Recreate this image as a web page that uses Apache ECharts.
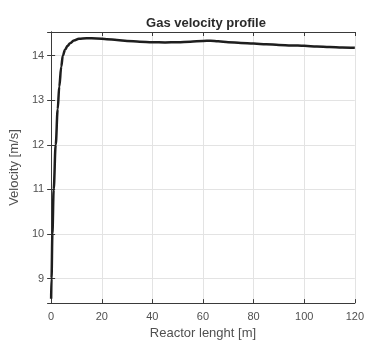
<!DOCTYPE html>
<html>
<head>
<meta charset="utf-8">
<script src="https://cdn.jsdelivr.net/npm/echarts@6/dist/echarts.min.js"></script>
<style>
  html, body { margin: 0; padding: 0; background: #fff; }
  #chart { width: 367px; height: 345px; }
</style>
</head>
<body>
<div id="chart"></div>
<script>
// Gas velocity along the reactor
const lengthM = [0, 0.15, 0.5, 1.0, 1.8, 2.6, 3.2, 4.0, 4.6, 5.5, 6.5, 7.5, 9, 11, 14, 18, 22, 26, 30, 35, 40, 45, 50, 55, 60, 63, 66, 70, 75, 80, 85, 90, 95, 100, 105, 110, 115, 120];
const velocity = [8.55, 9.0, 10.0, 11.0, 12.0, 12.8, 13.3, 13.75, 14.0, 14.13, 14.22, 14.28, 14.34, 14.38, 14.39, 14.385, 14.37, 14.35, 14.33, 14.31, 14.30, 14.295, 14.30, 14.31, 14.33, 14.335, 14.32, 14.30, 14.285, 14.27, 14.255, 14.24, 14.23, 14.22, 14.205, 14.195, 14.185, 14.175];

const xTicks = [0, 20, 40, 60, 80, 100, 120];
const yRange = [8.45, 14.53];

const points = lengthM.map((x, i) => [x, velocity[i]]);

const font = 'Liberation Sans, Arial, sans-serif';
const axisColor = '#3a3a3a';
const labelColor = '#505050';

const chart = echarts.init(document.getElementById('chart'), null, { renderer: 'canvas' });

const baseX = {
  type: 'value',
  min: xTicks[0],
  max: xTicks[xTicks.length - 1],
  interval: 20,
  axisLine: { show: true, lineStyle: { color: axisColor, width: 1 } },
  axisTick: { show: true, inside: true, length: 4, lineStyle: { color: axisColor } }
};
const baseY = {
  type: 'value',
  min: yRange[0],
  max: yRange[1],
  splitNumber: 6,
  axisLine: { show: true, lineStyle: { color: axisColor, width: 1 } },
  axisTick: { show: true, inside: true, length: 4, lineStyle: { color: axisColor } }
};

chart.setOption({
  animation: false,
  backgroundColor: '#fff',
  title: {
    text: 'Gas velocity profile',
    left: 201,
    top: 12,
    textAlign: 'center',
    textStyle: { fontFamily: font, fontSize: 13, fontWeight: 'bold', color: '#2a2a2a' }
  },
  grid: { left: 45, right: 10, top: 32, bottom: 38, containLabel: false },
  xAxis: [
    Object.assign({}, baseX, {
      position: 'bottom',
      name: 'Reactor lenght [m]',
      nameLocation: 'middle',
      nameGap: 21,
      nameTextStyle: { fontFamily: font, fontSize: 13, color: labelColor },
      axisLabel: { fontFamily: font, fontSize: 11, color: labelColor, margin: 8 },
      splitLine: { show: true, lineStyle: { color: '#e3e3e3', width: 1 } }
    }),
    Object.assign({}, baseX, {
      position: 'top',
      axisLabel: { show: false },
      splitLine: { show: false }
    })
  ],
  yAxis: [
    Object.assign({}, baseY, {
      position: 'left',
      name: 'Velocity [m/s]',
      nameLocation: 'middle',
      nameGap: 23,
      nameTextStyle: { fontFamily: font, fontSize: 13, color: labelColor },
      axisLabel: { fontFamily: font, fontSize: 11, color: labelColor, margin: 7, showMinLabel: false, showMaxLabel: false },
      splitLine: { show: true, lineStyle: { color: '#e3e3e3', width: 1 } }
    }),
    Object.assign({}, baseY, {
      position: 'right',
      axisLabel: { show: false },
      splitLine: { show: false }
    })
  ],
  series: [{
    type: 'line',
    data: points,
    xAxisIndex: 0,
    yAxisIndex: 0,
    showSymbol: false,
    smooth: 0.35,
    smoothMonotone: 'x',
    lineStyle: { color: '#1e1e1e', width: 2.5 },
    z: 5
  }]
});
</script>
</body>
</html>
